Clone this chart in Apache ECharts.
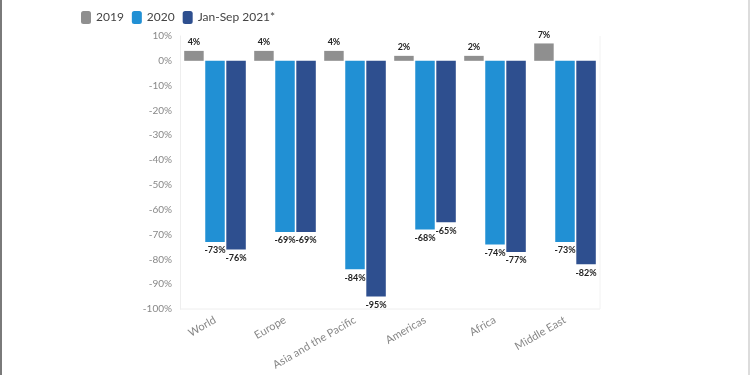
<!DOCTYPE html>
<html>
<head>
<meta charset="utf-8">
<script src="https://cdn.jsdelivr.net/npm/echarts@6/dist/echarts.min.js"></script>
<style>
  html, body { margin: 0; padding: 0; background: #fff; }
  #chart { width: 746px; height: 375px; border-left: 2px solid #7a7a7a; border-right: 2px solid #dcdcdc; }
</style>
</head>
<body>
<div id="chart"></div>
<script>
const regions = ['World', 'Europe', 'Asia and the Pacific', 'Americas', 'Africa', 'Middle East'];
const seriesNames = ['2019', '2020', 'Jan-Sep 2021*'];
const v2019 = [4, 4, 4, 2, 2, 7];
const v2020 = [-73, -69, -84, -68, -74, -73];
const v2021 = [-76, -69, -95, -65, -77, -82];
const colors = ['#8f8f8f', '#2190d4', '#2e4f8f'];

const chart = echarts.init(document.getElementById('chart'));

const label = {
  show: true,
  formatter: '{c}%',
  color: '#222',
  fontSize: 9,
  fontWeight: 'bold',
  fontFamily: 'Lato',
  distance: 4
};

function mkSeries(name, data, color) {
  return {
    name: name,
    type: 'bar',
    data: data.map((v) => ({
      value: v,
      label: { position: v >= 0 ? 'top' : 'bottom' }
    })),
    itemStyle: { color: color },
    barGap: '8%',
    barCategoryGap: '12%',
    label: label
  };
}

chart.setOption({
  animation: false,
  textStyle: { fontFamily: 'Lato' },
  legend: {
    left: 74,
    top: 6,
    itemWidth: 10,
    itemHeight: 13,
    itemGap: 8,
    icon: 'roundRect',
    textStyle: { color: '#444', fontSize: 12, fontFamily: 'Lato' },
    data: seriesNames
  },
  grid: { left: 178, right: 148, top: 36, bottom: 66 },
  xAxis: {
    type: 'category',
    data: regions,
    axisLine: { show: false },
    axisTick: { show: false },
    axisLabel: { rotate: 30, color: '#888', fontSize: 11, margin: 10, interval: 0 }
  },
  yAxis: {
    type: 'value',
    min: -100,
    max: 10,
    interval: 10,
    axisLabel: { formatter: '{value}%', color: '#888', fontSize: 10, margin: 8 },
    axisLine: { show: true, lineStyle: { color: '#eee' } },
    splitLine: { show: false }
  },
  series: [
    mkSeries(seriesNames[0], v2019, colors[0]),
    mkSeries(seriesNames[1], v2020, colors[1]),
    mkSeries(seriesNames[2], v2021, colors[2])
  ],
  graphic: [{
    type: 'line',
    shape: { x1: 178, y1: 309, x2: 598, y2: 309 },
    style: { stroke: '#eee', lineWidth: 1 }
  }, {
    type: 'line',
    shape: { x1: 598, y1: 36, x2: 598, y2: 309 },
    style: { stroke: '#f2f2f2', lineWidth: 1 }
  }]
});
</script>
</body>
</html>
